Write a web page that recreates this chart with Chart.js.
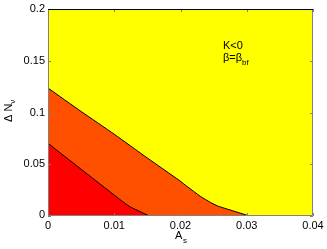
<!DOCTYPE html>
<html>
<head>
<meta charset="utf-8">
<script src="https://cdn.jsdelivr.net/npm/chart.js@4/dist/chart.umd.min.js"></script>
<style>
  html, body { margin: 0; padding: 0; background: #fff; }
  #wrap { width: 327px; height: 249px; }
</style>
</head>
<body>
<div id="wrap"><canvas id="c"></canvas></div>
<script>
// boundary curves (A_s, Delta N_nu)
var outerX = [0, 0.005, 0.01, 0.015, 0.0199, 0.021, 0.023, 0.0245, 0.0256, 0.0285, 0.0304];
var outerY = [0.1236, 0.101, 0.079, 0.056, 0.034, 0.0285, 0.019, 0.0132, 0.0097, 0.0038, 0];
var innerX = [0, 0.005, 0.0105, 0.0115, 0.0125, 0.0138, 0.0153];
var innerY = [0.0702, 0.0452, 0.0177, 0.0128, 0.0085, 0.0045, 0];
var xTicks = [0, 0.01, 0.02, 0.03, 0.04];
var yTicks = [0, 0.05, 0.1, 0.15, 0.2];

var FONT = '"Liberation Sans", Arial, sans-serif';

function pts(xs, ys) {
    var out = [];
    for (var i = 0; i < xs.length; i++) out.push({x: xs[i], y: ys[i]});
    return out;
}

function fmt(v) { return String(+v.toFixed(3)); }

// yellow background, inward ticks, box, tick labels, axis titles, annotation
var decor = {
    id: 'decor',
    beforeDatasetsDraw: function(chart) {
        var a = chart.chartArea, ctx = chart.ctx;
        ctx.save();
        ctx.fillStyle = '#ffff00';
        ctx.fillRect(a.left, a.top, a.right - a.left, a.bottom - a.top);
        ctx.restore();
    },
    afterDatasetsDraw: function(chart) {
        var a = chart.chartArea, ctx = chart.ctx;
        var xs = chart.scales.x, ys = chart.scales.y;
        ctx.save();
        ctx.strokeStyle = '#808080';
        ctx.lineWidth = 1;
        xTicks.forEach(function(v) {
            var px = Math.round(xs.getPixelForValue(v)) + 0.5;
            ctx.beginPath();
            ctx.moveTo(px, a.bottom); ctx.lineTo(px, a.bottom - 3);
            ctx.moveTo(px, a.top); ctx.lineTo(px, a.top + 3);
            ctx.stroke();
        });
        yTicks.forEach(function(v) {
            var py = Math.round(ys.getPixelForValue(v)) + 0.5;
            ctx.beginPath();
            ctx.moveTo(a.left, py); ctx.lineTo(a.left + 3, py);
            ctx.moveTo(a.right, py); ctx.lineTo(a.right - 3, py);
            ctx.stroke();
        });
        // box: left/right/bottom gray, top black
        ctx.beginPath();
        ctx.moveTo(a.left + 0.5, a.top); ctx.lineTo(a.left + 0.5, a.bottom - 0.5);
        ctx.lineTo(a.right - 0.5, a.bottom - 0.5); ctx.lineTo(a.right - 0.5, a.top);
        ctx.stroke();
        ctx.strokeStyle = '#000';
        ctx.beginPath();
        ctx.moveTo(a.left, a.top + 0.5); ctx.lineTo(a.right, a.top + 0.5);
        ctx.stroke();

        ctx.fillStyle = '#000';
        ctx.font = '11px ' + FONT;
        // tick labels
        ctx.textAlign = 'center';
        ctx.textBaseline = 'top';
        xTicks.forEach(function(v) {
            ctx.fillText(fmt(v), xs.getPixelForValue(v), a.bottom + 4);
        });
        ctx.textAlign = 'right';
        ctx.textBaseline = 'middle';
        yTicks.forEach(function(v) {
            var py = ys.getPixelForValue(v);
            ctx.fillText(fmt(v), a.left - 3, v === 0 ? py - 1 : py);
        });

        ctx.textBaseline = 'alphabetic';
        ctx.textAlign = 'left';
        // x title A_s
        ctx.fillText('A', 175, 239);
        ctx.font = '8px ' + FONT;
        ctx.fillText('s', 183, 243);
        // y title Delta N_nu
        ctx.translate(12, 112);
        ctx.rotate(-Math.PI / 2);
        ctx.font = '11px ' + FONT;
        ctx.fillText('\u0394 N', -10, 0);
        var wN = ctx.measureText('\u0394 N').width;
        ctx.font = '8px ' + FONT;
        ctx.fillText('\u03bd', -10 + wN, 3);
        ctx.setTransform(1, 0, 0, 1, 0, 0);
        // annotation
        var tx = xs.getPixelForValue(0.0264), ty = ys.getPixelForValue(0.161);
        ctx.font = '11px ' + FONT;
        ctx.fillText('K<0', tx, ty);
        ctx.fillText('\u03b2=\u03b2', tx, ty + 12);
        var w = ctx.measureText('\u03b2=\u03b2').width;
        ctx.font = '8px ' + FONT;
        ctx.fillText('bf', tx + w, ty + 16);
        ctx.restore();
    }
};

new Chart(document.getElementById('c'), {
    type: 'scatter',
    data: {
        datasets: [
            {
                data: pts(innerX, innerY),
                showLine: true,
                borderColor: '#000',
                borderWidth: 1,
                backgroundColor: '#ff0000',
                fill: 'origin',
                pointRadius: 0,
                tension: 0.2,
                order: 1
            },
            {
                data: pts(outerX, outerY),
                showLine: true,
                borderColor: '#000',
                borderWidth: 1,
                backgroundColor: '#ff5000',
                fill: 'origin',
                pointRadius: 0,
                tension: 0.2,
                order: 2
            }
        ]
    },
    options: {
        responsive: true,
        maintainAspectRatio: false,
        animation: false,
        events: [],
        layout: { padding: { top: 9, right: 14, left: 0, bottom: 0 } },
        plugins: { legend: { display: false }, tooltip: { enabled: false } },
        scales: {
            x: {
                type: 'linear',
                min: 0, max: 0.04,
                afterBuildTicks: function(s) { s.ticks = xTicks.map(function(v) { return {value: v}; }); },
                afterFit: function(s) { s.height = 33; },
                grid: { display: false },
                border: { display: false },
                ticks: { display: false }
            },
            y: {
                type: 'linear',
                min: 0, max: 0.2,
                afterBuildTicks: function(s) { s.ticks = yTicks.map(function(v) { return {value: v}; }); },
                afterFit: function(s) { s.width = 48; },
                grid: { display: false },
                border: { display: false },
                ticks: { display: false }
            }
        }
    },
    plugins: [decor]
});
</script>
</body>
</html>
